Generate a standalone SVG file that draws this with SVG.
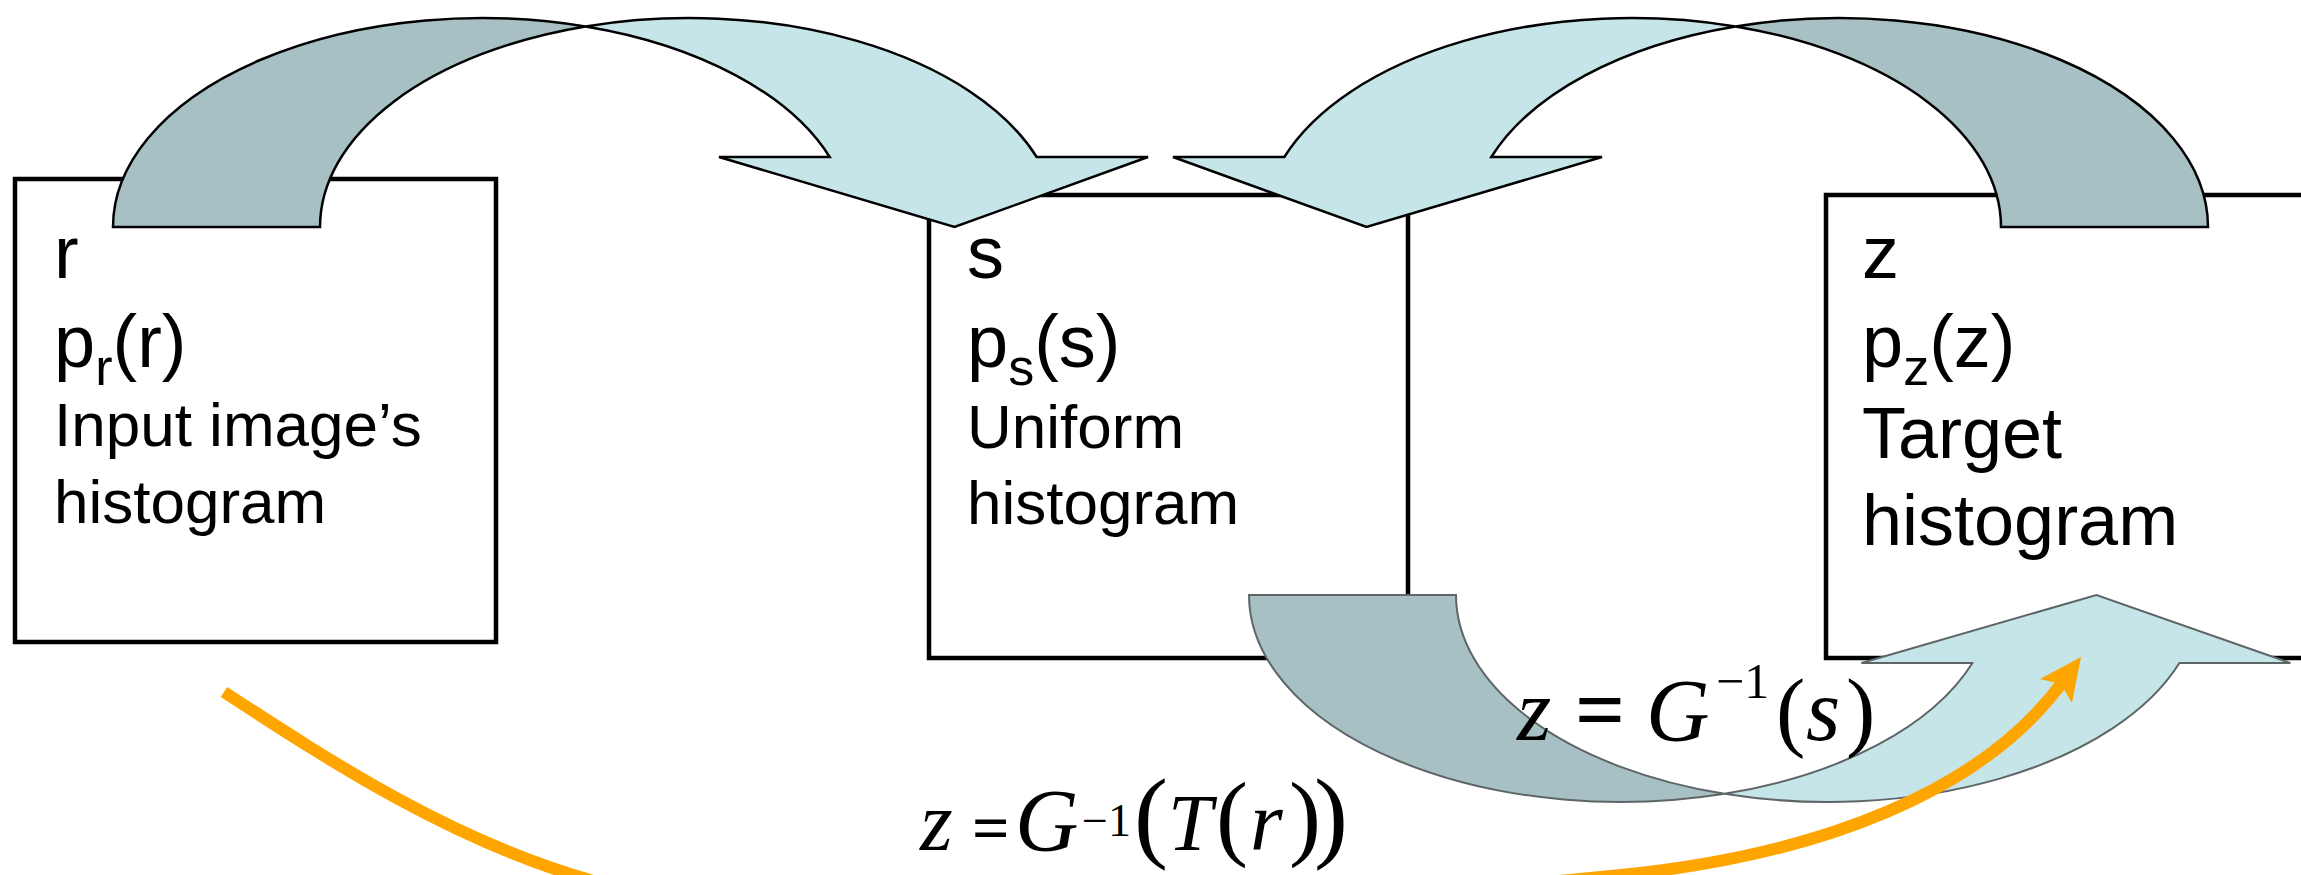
<svg xmlns="http://www.w3.org/2000/svg" width="2301" height="875" viewBox="0 0 2301 875">
<style>
.box{fill:#FFFFFF;stroke:#000000;stroke-width:4.5}
.lbl{font-family:"Liberation Sans",Arial,sans-serif;fill:#000000}
.dark{fill:#A7C0C4;stroke:#000000;stroke-width:2.5;stroke-linejoin:miter}
.light{fill:#C5E5E8;stroke:#000000;stroke-width:2.5;stroke-linejoin:miter}
.darkg{fill:#A7C0C4;stroke:#5E6566;stroke-width:2}
.lightg{fill:#C5E5E8;stroke:#5E6566;stroke-width:2}
.math{font-family:"Liberation Serif","Times New Roman",serif;fill:#000000}
.it{font-style:italic}
.orange{fill:none;stroke:#FFA500;stroke-width:12}
</style>
<rect x="0" y="0" width="2301" height="875" fill="#FFFFFF"/>

<g id="node-r">
<rect class="box" x="15" y="179" width="481" height="463"/>
<text class="lbl" font-size="74"><tspan x="54" y="278">r</tspan><tspan x="54" y="367">p</tspan><tspan font-size="52" dy="18">r</tspan><tspan dy="-18">(r)</tspan><tspan x="54" y="446" font-size="62">Input image’s</tspan><tspan x="54" y="523" font-size="62">histogram</tspan></text>
</g>

<g id="node-s">
<rect class="box" x="929" y="195" width="479" height="463"/>
<text class="lbl" font-size="74"><tspan x="967" y="278">s</tspan><tspan x="967" y="367">p</tspan><tspan font-size="52" dy="18">s</tspan><tspan dy="-18">(s)</tspan><tspan x="967" y="448" font-size="62">Uniform</tspan><tspan x="967" y="524" font-size="62">histogram</tspan></text>
</g>

<g id="node-z">
<rect class="box" x="1826" y="195" width="520" height="463"/>
<text class="lbl" font-size="74"><tspan x="1862" y="278">z</tspan><tspan x="1862" y="367">p</tspan><tspan font-size="52" dy="18">z</tspan><tspan dy="-18">(z)</tspan><tspan x="1862" y="458" font-size="72">Target</tspan><tspan x="1862" y="545" font-size="72">histogram</tspan></text>
</g>

<g id="connectors">
<g id="arrow-r-to-s">
<path class="dark" d="M 113,227 A 369 209 0 0 1 585.5,26.4 A 369 209 0 0 0 320,227 Z"/>
<path class="light" d="M 719,157 L 954.5,227 L 1148,157 L 1036.7,157 A 369 209 0 0 0 585.5,26.4 A 369 209 0 0 1 829.7,157 Z"/>
</g>
<g id="arrow-z-to-s">
<path class="dark" d="M 2208,227 A 369 209 0 0 0 1735.5,26.4 A 369 209 0 0 1 2001,227 Z"/>
<path class="light" d="M 1602,157 L 1366.5,227 L 1173,157 L 1284.3,157 A 369 209 0 0 1 1735.5,26.4 A 369 209 0 0 0 1491.3,157 Z"/>
</g>
<g id="arrow-s-to-z">
<path class="darkg" d="M 1249,595 A 372 207 0 0 0 1724.5,793.8 A 372 207 0 0 1 1456,595 Z"/>
<path class="lightg" d="M 1861.4,663 L 2096.5,595 L 2290.4,663 L 2179.4,663 A 372 207 0 0 1 1724.5,793.8 A 372 207 0 0 0 1972.4,663 Z"/>
</g>
<g id="arrow-r-to-z">
<path class="orange" d="M 224,692 C 330,761 450,840 590,880 C 800,941 1321,905 1621,875 C 1821,855 1984,791 2064,680"/>
<polygon fill="#FFA500" points="2081,657 2072,703 2061,684 2040,679"/>
</g>
</g>

<g id="formula-s">
<text class="math" font-size="88"><tspan class="it" x="1517" y="740">z</tspan><tspan x="1575" y="740" font-weight="bold">=</tspan><tspan class="it" x="1646" y="740">G</tspan><tspan x="1716" y="698" font-size="50">−1</tspan><tspan x="1776" y="740">(</tspan><tspan class="it" x="1806" y="740">s</tspan><tspan x="1846" y="740">)</tspan></text>
</g>

<g id="formula-r">
<text class="math" font-size="84"><tspan class="it" x="920" y="850">z</tspan><tspan x="972" y="850" font-size="66" font-weight="bold">=</tspan><tspan class="it" x="1015" y="850" font-size="88">G</tspan><tspan x="1082" y="836" font-size="46">−1</tspan><tspan x="1134" y="849" font-size="102">(</tspan><tspan class="it" x="1168" y="850" font-size="80">T</tspan><tspan x="1216" y="848" font-size="96">(</tspan><tspan class="it" x="1250" y="850" font-size="84">r</tspan><tspan x="1289" y="848" font-size="96">)</tspan><tspan x="1314" y="849" font-size="102">)</tspan></text>
</g>
</svg>
